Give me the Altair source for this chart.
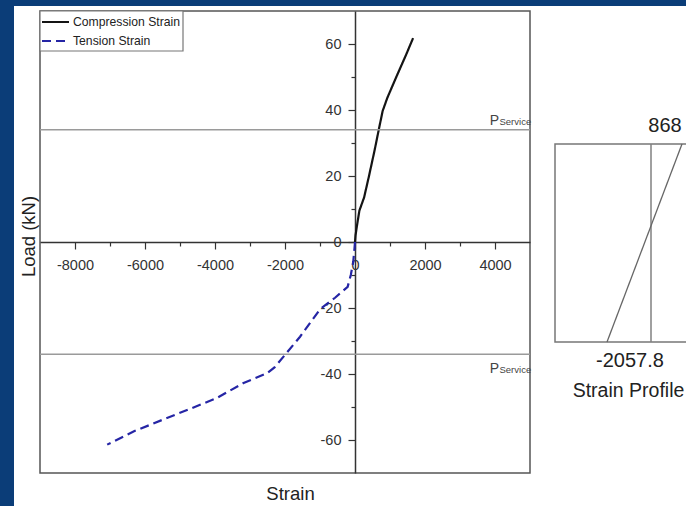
import altair as alt
import pandas as pd

# ---------------- data ----------------
series_names = ["Compression Strain", "Tension Strain"]
comp_strain = [0, 15, 50, 125, 260, 400, 560, 690, 790, 924, 1200, 1450, 1660]
comp_load = [0, 2, 4.5, 9.5, 13.5, 20, 27.8, 34.6, 39.7, 43.7, 50.5, 56.5, 61.8]
ten_strain = [0, -15, -50, -120, -210, -570, -1000, -1570, -2000, -2300, -2520,
              -3200, -3950, -4700, -5480, -6300, -7080]
ten_load = [0, -2, -6, -10, -13.6, -16.9, -20.4, -28.7, -34.2, -38, -39.8,
            -42.8, -47.3, -50.5, -53.8, -57.3, -61.4]
service_load = [34, -34]
x_major = [-8000, -6000, -4000, -2000, 0, 2000, 4000]
x_minor = [-7000, -5000, -3000, -1000, 1000, 3000]
y_major = [-60, -40, -20, 0, 20, 40, 60]
y_minor = [-50, -30, -10, 10, 30, 50]
profile_strain = [868, -2057.8]
profile_level = [1, 0]

# ---------------- layout / style ----------------
W, H = 490, 462
X_DOMAIN = [-9000, 5000]
Y_DOMAIN = [-70, 70]
x_zero_px = W * (0 - X_DOMAIN[0]) / (X_DOMAIN[1] - X_DOMAIN[0])
y_zero_px = H * (Y_DOMAIN[1] - 0) / (Y_DOMAIN[1] - Y_DOMAIN[0])
FONT = "Liberation Sans, Arial, sans-serif"
BLUE_BG = "#0b3d78"
AX = "#333333"

curves = pd.DataFrame({
    "strain": comp_strain + ten_strain,
    "load": comp_load + ten_load,
    "series": [series_names[0]] * len(comp_strain) + [series_names[1]] * len(ten_strain),
    "idx": list(range(len(comp_strain))) + list(range(len(ten_strain))),
})
svc = pd.DataFrame({"load": service_load})
leg = pd.DataFrame({"series": series_names})
prof = pd.DataFrame({
    "strain": profile_strain,
    "level": profile_level,
    "label": [f"{v:g}" for v in profile_strain],
})
one = pd.DataFrame({"k": [0]})

xs = alt.Scale(domain=X_DOMAIN, nice=False, zero=False)
ys = alt.Scale(domain=Y_DOMAIN, nice=False, zero=False)
color_scale = alt.Scale(domain=series_names, range=["#141414", "#2525a5"])
dash_scale = alt.Scale(domain=series_names, range=[[1, 0], [9, 5]])

x_axis = alt.Axis(
    orient="bottom", offset=-y_zero_px, values=x_major,
    labelExpr="toString(datum.value)", labelFont=FONT, labelFontSize=14.5,
    labelColor=AX, labelPadding=9, labelFlush=False, labelOverlap=False,
    tickSize=7, tickColor=AX, tickWidth=1.2, domainColor=AX, domainWidth=1.5,
    grid=False, title="Strain", titleFont=FONT, titleFontSize=18.5,
    titleFontWeight="normal", titleColor="#222222", titleX=250, titleY=257,
    titleBaseline="alphabetic", titleAlign="center",
)
y_axis = alt.Axis(
    orient="left", offset=-x_zero_px, values=y_major,
    labelExpr="toString(datum.value)", labelFont=FONT, labelFontSize=14.5,
    labelColor=AX, labelPadding=7, labelFlush=False, labelOverlap=False,
    tickSize=7, tickColor=AX, tickWidth=1.2, domainColor=AX, domainWidth=1.5,
    grid=False, title="Load (kN)", titleFont=FONT, titleFontSize=18.5,
    titleFontWeight="normal", titleColor="#222222", titleX=-327, titleY=225,
    titleAngle=270, titleBaseline="middle", titleAlign="center",
)

lines = alt.Chart(curves).mark_line(strokeWidth=2.2).encode(
    x=alt.X("strain:Q", scale=xs, axis=x_axis),
    y=alt.Y("load:Q", scale=ys, axis=y_axis),
    color=alt.Color("series:N", scale=color_scale, legend=None),
    strokeDash=alt.StrokeDash("series:N", scale=dash_scale, legend=None),
    order="idx:Q",
)

minor = alt.Chart(curves).mark_point(opacity=0).encode(
    x=alt.X("strain:Q", scale=xs, axis=alt.Axis(
        orient="bottom", offset=-y_zero_px, values=x_minor, labels=False,
        domain=False, tickSize=4, tickColor=AX, tickWidth=1.2, grid=False, title=None)),
    y=alt.Y("load:Q", scale=ys, axis=alt.Axis(
        orient="left", offset=-x_zero_px, values=y_minor, labels=False,
        domain=False, tickSize=4, tickColor=AX, tickWidth=1.2, grid=False, title=None)),
)

svc_rules = alt.Chart(svc).mark_rule(color="#9a9a9a", strokeWidth=1.5).encode(
    y=alt.Y("load:Q", scale=ys, axis=None)
)

def svc_label(cond, dy):
    base = alt.Chart(svc).transform_filter(cond)
    p = base.mark_text(text="P", align="right", baseline="alphabetic", dy=dy,
                       font=FONT, fontSize=14, color="#444444").encode(
        x=alt.value(459), y=alt.Y("load:Q", scale=ys, axis=None))
    s = base.mark_text(text="Service", align="left", baseline="alphabetic", dy=dy,
                       font=FONT, fontSize=9.5, color="#444444").encode(
        x=alt.value(459.5), y=alt.Y("load:Q", scale=ys, axis=None))
    return [p, s]

svc_texts = svc_label("datum.load > 0", -5) + svc_label("datum.load < 0", 19)

# manual legend box
leg_box = alt.Chart(one).mark_rect(fill="white", stroke="#777777", strokeWidth=1.2).encode(
    x=alt.value(0), x2=alt.value(143), y=alt.value(0), y2=alt.value(40)
)
leg_layers = [leg_box]
for i, s in enumerate(series_names):
    row_y = 11 + 19 * i
    sub = alt.Chart(leg).transform_filter(alt.datum.series == s)
    leg_layers.append(sub.mark_rule(strokeWidth=2.2).encode(
        x=alt.value(2), x2=alt.value(29), y=alt.value(row_y),
        color=alt.Color("series:N", scale=color_scale, legend=None),
        strokeDash=alt.StrokeDash("series:N", scale=dash_scale, legend=None)))
    leg_layers.append(sub.mark_text(align="left", baseline="middle", font=FONT,
                                    fontSize=12.2, color="#222222").encode(
        x=alt.value(33), y=alt.value(row_y), text="series:N"))

main = alt.layer(lines, minor, svc_rules, *svc_texts, *leg_layers).resolve_axis(
    x="independent", y="independent"
)

# ---------------- strain profile inset ----------------
ixs = alt.Scale(domain=[-2057.8, 0, 868], range=[567, 611, 642])
iys = alt.Scale(domain=[0, 1], range=[331, 133])

inset_box = alt.Chart(one).mark_rect(fillOpacity=0, stroke="#777777", strokeWidth=1.5).encode(
    x=alt.value(515), x2=alt.value(720),
    y=alt.Y(datum=1, scale=iys, axis=None), y2=alt.Y2(datum=0),
)
zero_rule = alt.Chart(one).mark_rule(color="#808080", strokeWidth=1.5).encode(
    x=alt.X(datum=0, scale=ixs, axis=None),
    y=alt.Y(datum=0, scale=iys, axis=None), y2=alt.Y2(datum=1),
)
prof_line = alt.Chart(prof).mark_line(color="#666666", strokeWidth=1.3).encode(
    x=alt.X("strain:Q", scale=ixs, axis=None),
    y=alt.Y("level:Q", scale=iys, axis=None),
)
t_top = alt.Chart(prof).transform_filter("datum.level == 1").mark_text(
    font=FONT, fontSize=20, color="#222222", baseline="middle", dx=-17, dy=-18.5
).encode(x=alt.X("strain:Q", scale=ixs, axis=None),
         y=alt.Y("level:Q", scale=iys, axis=None), text="label:N")
t_bot = alt.Chart(prof).transform_filter("datum.level == 0").mark_text(
    font=FONT, fontSize=20, color="#222222", baseline="middle", dx=23, dy=19
).encode(x=alt.X("strain:Q", scale=ixs, axis=None),
         y=alt.Y("level:Q", scale=iys, axis=None), text="label:N")
t_title = alt.Chart(one).mark_text(
    text="Strain Profile", font=FONT, fontSize=19.5, color="#222222", baseline="middle"
).encode(x=alt.value(588.5), y=alt.value(380))

blue_left = alt.Chart(one).mark_rect(color=BLUE_BG).encode(
    x=alt.value(-40), x2=alt.value(-26), y=alt.value(-11), y2=alt.value(495))
blue_top = alt.Chart(one).mark_rect(color=BLUE_BG).encode(
    x=alt.value(-40), x2=alt.value(646), y=alt.value(-11), y2=alt.value(-5))

inset = alt.layer(inset_box, zero_rule, prof_line, t_top, t_bot, t_title, blue_left, blue_top)

chart = alt.layer(main, inset).resolve_scale(
    x="independent", y="independent"
).properties(
    width=W, height=H,
    autosize=alt.AutoSizeParams(type="none"),
    padding={"left": 40, "top": 11, "right": 156, "bottom": 33},
    background="white",
).configure_view(stroke="#555555", strokeWidth=1.5)

chart.save("out.html", embed_options={"renderer": "svg", "actions": False})
